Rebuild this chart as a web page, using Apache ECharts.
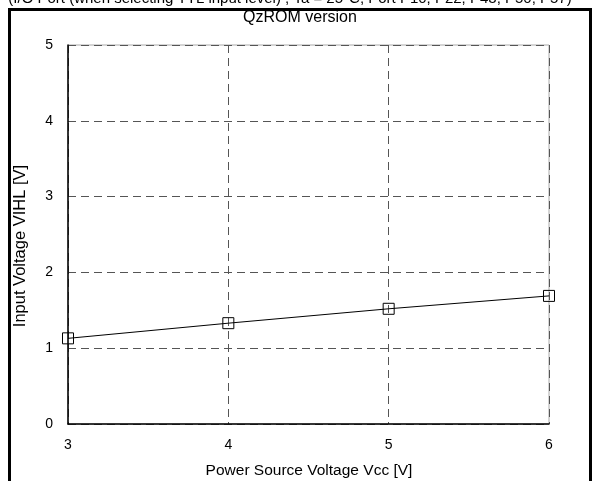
<!DOCTYPE html>
<html>
<head>
<meta charset="utf-8">
<script src="https://cdn.jsdelivr.net/npm/echarts@6/dist/echarts.min.js"></script>
<style>html,body{margin:0;padding:0;background:#fff}#c{width:593px;height:481px}</style>
</head>
<body>
<div id="c"></div>
<script>
const vcc = [3, 4, 5, 6];
const vihl = [1.13, 1.33, 1.52, 1.69];
const headerText = '(I/O Port (when selecting TTL input level) , Ta = 25°C, Port P10, P22, P43, P50, P57)';
const titleText = 'QzROM version';
const xName = 'Power Source Voltage Vcc [V]';
const yName = 'Input Voltage VIHL [V]';

const chart = echarts.init(document.getElementById('c'), null, {renderer: 'canvas'});
const font = 'Liberation Sans, Arial, sans-serif';
chart.setOption({
  animation: false,
  backgroundColor: '#fff',
  textStyle: {fontFamily: font},
  grid: {left: 68, right: 44, top: 45, bottom: 57, show: true, borderColor: '#aaa', borderWidth: 1},
  graphic: [
    {type: 'rect', shape: {x: 9.5, y: 9.5, width: 581, height: 500}, style: {fill: 'none', stroke: '#000', lineWidth: 3}, z: 10},
    {type: 'text', x: 290, y: -1, style: {text: headerText, font: '15px ' + font, fill: '#000', align: 'center', verticalAlign: 'middle'}},
    {type: 'text', x: 300, y: 18, style: {text: titleText, font: '16px ' + font, fill: '#000', align: 'center', verticalAlign: 'middle'}},
    {type: 'text', x: 309, y: 471, style: {text: xName, font: '15.5px ' + font, fill: '#000', align: 'center', verticalAlign: 'middle'}},
    {type: 'text', x: 20, y: 246, rotation: Math.PI / 2, style: {text: yName, font: '16.5px ' + font, fill: '#000', align: 'center', verticalAlign: 'middle'}}
  ],
  xAxis: {
    type: 'value', min: 3, max: 6, interval: 1,
    axisLine: {show: true, lineStyle: {color: '#000', width: 1.5}},
    axisTick: {show: false},
    axisLabel: {color: '#000', fontSize: 14, margin: 14, fontFamily: font},
    splitLine: {show: true, lineStyle: {color: '#555', type: [8, 5], width: 1}}
  },
  yAxis: {
    type: 'value', min: 0, max: 5, interval: 1,
    axisLine: {show: true, lineStyle: {color: '#000', width: 1.5}},
    axisTick: {show: false},
    axisLabel: {color: '#000', fontSize: 14, margin: 15, fontFamily: font},
    splitLine: {show: true, lineStyle: {color: '#555', type: [8, 5], width: 1}}
  },
  series: [{
    type: 'line',
    data: vcc.map((x, i) => [x, vihl[i]]),
    symbol: 'rect', symbolSize: 11,
    itemStyle: {color: 'rgba(255,255,255,0)', borderColor: '#000', borderWidth: 1},
    lineStyle: {color: '#000', width: 1},
    clip: false
  }]
});
</script>
</body>
</html>
